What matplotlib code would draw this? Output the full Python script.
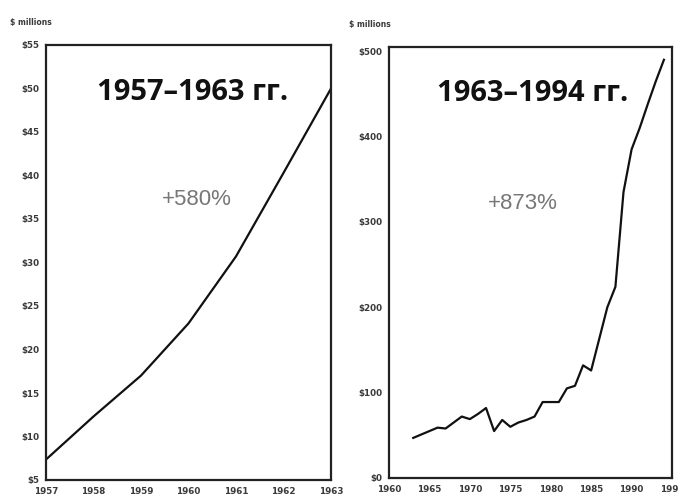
import matplotlib
matplotlib.use('Agg')
import matplotlib.pyplot as plt

# left panel: 1957-1963
years_a = [1957, 1958, 1959, 1960, 1961, 1962, 1963]
values_a = [7.35, 12.3, 17.0, 23.0, 30.7, 40.3, 50.0]
yticks_a = [5, 10, 15, 20, 25, 30, 35, 40, 45, 50, 55]

# right panel: 1963-1994
years_b = [1963, 1964, 1965, 1966, 1967, 1968, 1969, 1970, 1971, 1972,
           1973, 1974, 1975, 1976, 1977, 1978, 1979, 1980, 1981, 1982,
           1983, 1984, 1985, 1986, 1987, 1988, 1989, 1990, 1991, 1992,
           1993, 1994]
values_b = [47, 51, 55, 59, 58, 65, 72, 69, 75, 82,
            55, 68, 60, 65, 68, 72, 89, 89, 89, 105,
            108, 132, 126, 163, 200, 224, 335, 385, 410, 438,
            465, 490]
yticks_b = [0, 100, 200, 300, 400, 500]
xticks_b = [1960, 1965, 1970, 1975, 1980, 1985, 1990, 1995]

titles = ["1957\u20131963 \u0433\u0433.", "1963\u20131994 \u0433\u0433."]
growth = ["+580%", "+873%"]

fig = plt.figure(figsize=(6.79, 5.0), dpi=100)
ax1 = fig.add_axes([0.0677, 0.04, 0.4198, 0.87])
ax2 = fig.add_axes([0.5729, 0.044, 0.4168, 0.862])

tick_kw = dict(fontsize=6.3, fontweight='bold', color='#3a3a3a')

ax1.plot(years_a, values_a, color='#111111', lw=1.6)
ax1.set_xlim(1957, 1963)
ax1.set_ylim(5, 55)
ax1.set_xticks(years_a)
ax1.set_xticklabels([str(y) for y in years_a], **tick_kw)
ax1.set_yticks(yticks_a)
ax1.set_yticklabels([f"${v}" for v in yticks_a], **tick_kw)

ax2.plot(years_b, values_b, color='#111111', lw=1.6)
ax2.set_xlim(1960, 1995)
ax2.set_ylim(0, 505)
ax2.set_xticks(xticks_b)
ax2.set_xticklabels([str(y) for y in xticks_b], **tick_kw)
ax2.set_yticks(yticks_b)
ax2.set_yticklabels([f"${v}" for v in yticks_b], **tick_kw)

for ax in (ax1, ax2):
    for s in ax.spines.values():
        s.set_linewidth(1.6)
        s.set_color('#222222')
    ax.tick_params(length=0, pad=5)

title_kw = dict(ha='center', va='center', fontsize=21, fontweight='bold',
                family=['Open Sans', 'DejaVu Sans'], color='#111111')
ax1.text(0.516, 0.89, titles[0], transform=ax1.transAxes, **title_kw)
ax2.text(0.509, 0.893, titles[1], transform=ax2.transAxes, **title_kw)

growth_kw = dict(ha='center', va='center', fontsize=16, color='#777777',
                 family=['Liberation Sans', 'DejaVu Sans'])
ax1.text(0.53, 0.644, growth[0], transform=ax1.transAxes, **growth_kw)
ax2.text(0.473, 0.638, growth[1], transform=ax2.transAxes, **growth_kw)

fig.text(0.0147, 0.95, "$ millions", fontsize=5.5, fontweight='bold', color='#3a3a3a')
fig.text(0.514, 0.946, "$ millions", fontsize=5.5, fontweight='bold', color='#3a3a3a')

fig.savefig("out.png", dpi=100)
